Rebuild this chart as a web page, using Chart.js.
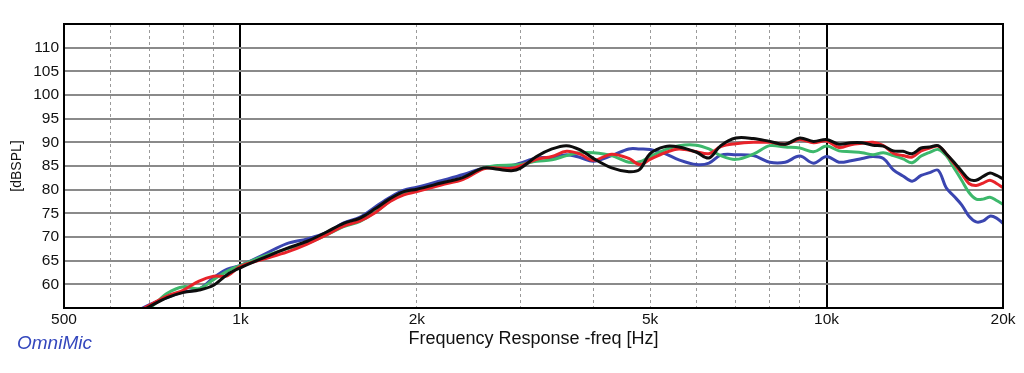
<!DOCTYPE html>
<html>
<head>
<meta charset="utf-8">
<script src="https://cdn.jsdelivr.net/npm/chart.js@4"></script>
<style>
  html, body { margin: 0; padding: 0; background: #fff; }
  #wrap { position: relative; width: 1024px; height: 373px; }
  #brand { position: absolute; left: 17px; top: 332px; font: italic 19px "Liberation Sans", Arial, sans-serif; color: #3447bd; }
</style>
</head>
<body>
<div id="wrap">
  <canvas id="graph" width="1024" height="373"></canvas>
  <div id="brand">OmniMic</div>
</div>
<script>
// frequency points (Hz)
const freq = [620, 700, 750, 800, 850, 900, 950, 1000, 1100, 1200, 1300, 1400, 1500, 1600, 1700, 1800, 1900, 2000,
    2200, 2400, 2600, 2750, 2900, 3000, 3200, 3400, 3600, 3800, 4000, 4300, 4600, 4800, 5000,
    5300, 5600, 6000, 6300, 6600, 7000, 7500, 8000, 8500, 9000, 9500, 10000,
    10500, 11000, 11500, 12000, 12500, 13000, 13500, 14000, 14500, 15000, 15500, 16000,
    16500, 17000, 17500, 18000, 18500, 19000, 19500, 20000];

const splBlack = [51.8, 55.3, 57.2, 58.3, 58.8, 59.8, 62.1, 63.5, 65.7, 67.6, 69.1, 71.0, 72.9, 74.0, 76.0, 78.1, 79.6, 80.1,
    81.4, 82.6, 84.6, 84.3, 84.0, 84.5, 87.0, 88.6, 89.3, 88.4, 86.6, 84.6, 83.8, 84.3, 87.6,
    89.1, 89.0, 87.9, 86.7, 89.3, 90.9, 90.8, 90.2, 89.6, 90.9, 90.2, 90.6,
    89.6, 89.9, 89.9, 89.4, 89.2, 88.2, 88.1, 87.6, 88.8, 89.0, 89.3, 87.6,
    85.8, 83.9, 82.2, 82.0, 82.8, 83.5, 83.0, 82.3];

const splRed = [52.0, 55.6, 57.5, 58.8, 60.7, 61.7, 61.8, 63.8, 65.4, 66.8, 68.5, 70.4, 72.3, 73.4, 75.2, 77.5, 78.9, 79.6,
    81.0, 82.2, 84.4, 84.6, 84.5, 85.0, 86.4, 87.0, 88.1, 87.5, 86.2, 87.5, 86.6, 85.3, 86.4,
    87.8, 88.6, 88.0, 87.6, 89.1, 89.7, 90.0, 90.0, 89.6, 90.6, 89.9, 90.3,
    88.9, 89.5, 89.8, 90.0, 89.3, 87.7, 87.2, 86.9, 88.2, 88.8, 89.2, 87.6,
    85.5, 83.4, 81.3, 80.9, 81.4, 82.0, 81.3, 80.4];

const splGreen = [51.5, 55.0, 58.1, 59.5, 59.1, 61.0, 62.8, 64.0, 66.0, 67.5, 68.7, 70.4, 72.2, 73.3, 75.3, 77.6, 79.2, 79.8,
    81.2, 82.5, 84.6, 85.1, 85.2, 85.3, 86.0, 86.3, 87.2, 87.8, 87.8, 87.2, 85.8, 85.9, 87.0,
    88.4, 89.3, 89.4, 88.6, 87.2, 86.4, 87.5, 89.3, 89.0, 88.8, 88.0, 89.2,
    88.2, 88.0, 87.8, 87.4, 87.8, 87.2, 86.5, 85.7, 87.1, 87.9, 88.5, 87.2,
    84.6, 82.0, 79.4, 78.0, 78.0, 78.4, 77.7, 76.9];

const splBlue = [52.4, 55.7, 57.2, 58.4, 59.0, 61.4, 63.2, 64.0, 66.4, 68.6, 69.6, 70.9, 73.0, 74.2, 76.4, 78.4, 79.9, 80.5,
    81.9, 83.2, 84.6, 85.0, 85.1, 85.6, 86.7, 86.8, 87.4, 86.8, 86.0, 87.2, 88.6, 88.6, 88.5,
    87.6, 86.3, 85.3, 85.6, 87.3, 87.4, 87.2, 85.8, 85.8, 87.1, 85.6, 87.0,
    85.8, 86.1, 86.6, 87.0, 86.6, 84.2, 82.9, 81.8, 83.0, 83.6, 84.1, 80.4,
    78.6, 76.8, 74.4, 73.2, 73.4, 74.4, 74.0, 72.9];

// axis ticks
const xGridValues = [500, 600, 700, 800, 900, 1000, 2000, 3000, 4000, 5000, 6000, 7000, 8000, 9000, 10000, 20000];
const xLabelValues = [500, 1000, 2000, 5000, 10000, 20000];
const xLabelTexts = ['500', '1k', '2k', '5k', '10k', '20k'];
const yTickValues = [55, 60, 65, 70, 75, 80, 85, 90, 95, 100, 105, 110, 115];

Chart.defaults.font.family = '"Liberation Sans", Arial, sans-serif';
Chart.defaults.color = '#111';

function series(values, color) {
    return {
        data: freq.map((f, i) => ({x: f, y: values[i]})),
        borderColor: color,
        borderWidth: 3,
        pointRadius: 0,
        tension: 0.35,
        fill: false,
        clip: 0
    };
}

const frame = {
    id: 'frame',
    afterDatasetsDraw(chart) {
        const a = chart.chartArea, ctx = chart.ctx;
        ctx.save();
        ctx.strokeStyle = '#000';
        ctx.lineWidth = 2;
        ctx.strokeRect(a.left, a.top, a.right - a.left, a.bottom - a.top);
        ctx.restore();
    }
};

new Chart(document.getElementById('graph'), {
    type: 'line',
    data: {
        datasets: [
            series(splBlack, '#0d0d0d'),
            series(splRed, '#e8232a'),
            series(splGreen, '#3db86c'),
            series(splBlue, '#3a45b0')
        ]
    },
    options: {
        responsive: false,
        animation: false,
        layout: { padding: { left: 0, right: 21, top: 24, bottom: 0 } },
        plugins: { legend: { display: false }, tooltip: { enabled: false } },
        scales: {
            x: {
                type: 'logarithmic',
                min: 500,
                max: 20000,
                afterBuildTicks: s => { s.ticks = xGridValues.map(v => ({value: v})); },
                afterFit: s => { s.height = 65; },
                ticks: {
                    autoSkip: false,
                    maxRotation: 0,
                    padding: 2,
                    font: { size: 15.5 },
                    callback: v => {
                        const i = xLabelValues.indexOf(v);
                        return i < 0 ? '' : xLabelTexts[i];
                    }
                },
                grid: {
                    drawTicks: false,
                    color: c => (c.tick && (c.tick.value === 1000 || c.tick.value === 10000)) ? '#000' : '#9a9a9a',
                    lineWidth: c => (c.tick && (c.tick.value === 1000 || c.tick.value === 10000)) ? 2 : 1
                },
                border: {
                    display: false,
                    dash: c => (c.tick && c.tick.value !== 1000 && c.tick.value !== 10000) ? [3, 3] : []
                },
                title: {
                    display: true,
                    text: 'Frequency Response -freq [Hz]',
                    font: { size: 18 },
                    padding: { top: 4, bottom: 23 }
                }
            },
            y: {
                min: 55,
                max: 115,
                afterBuildTicks: s => { s.ticks = yTickValues.map(v => ({value: v})); },
                afterFit: s => { s.width = 64; },
                ticks: {
                    autoSkip: false,
                    padding: 5,
                    font: { size: 15.5 },
                    callback: v => (v === 55 || v === 115) ? '' : String(v)
                },
                grid: {
                    drawTicks: false,
                    color: '#8a8a8a',
                    lineWidth: 2
                },
                border: { display: false },
                title: {
                    display: true,
                    text: '[dBSPL]',
                    font: { size: 14 },
                    padding: { top: 9, bottom: 0 }
                }
            }
        }
    },
    plugins: [frame]
});
</script>
</body>
</html>
